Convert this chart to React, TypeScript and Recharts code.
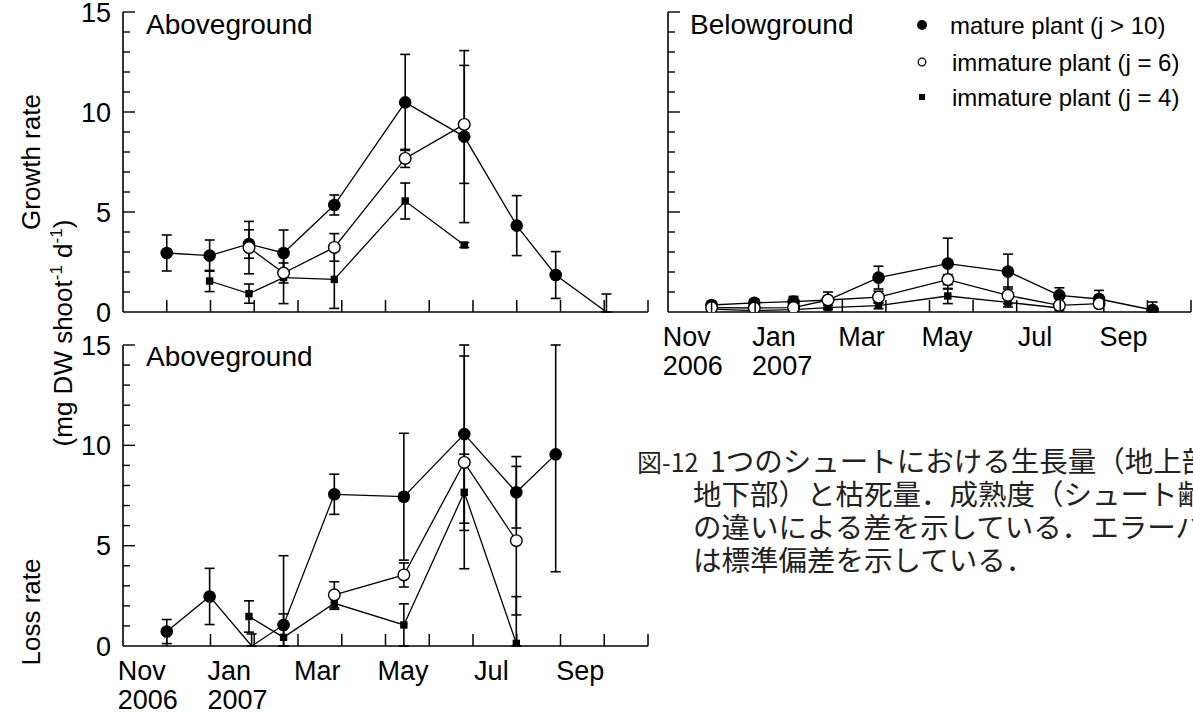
import React from 'react';
import { LineChart, Line, XAxis, YAxis, ErrorBar } from 'recharts';

const FONT = '"Liberation Sans", Arial, Helvetica, sans-serif';
const JP_FONT = '"Noto Sans CJK JP", sans-serif';

// x positions in months: 0 = 1 Oct 2006, 1 = 1 Nov 2006, ..., 12 = 1 Oct 2007
const MONTH_TICKS = [1, 2, 3, 4, 5, 6, 7, 8, 9, 10, 11, 12];
const LABEL_POS = [0.43, 2.43, 4.44, 6.4, 8.42, 10.45];
const LABEL_MONTH = ['Nov', 'Jan', 'Mar', 'May', 'Jul', 'Sep'];
const LABEL_YEAR = ['2006', '2007', '', '', '', ''];
const MONTH_HALF_WIDTH: Record<string, number> = { Nov: 24, Jan: 21.8 };
const Y_TICKS = [0, 1, 2, 3, 4, 5, 6, 7, 8, 9, 10, 11, 12, 13, 14, 15];
const Y_MAX = 15;

const SERIES_NAMES = ['mature plant (j > 10)', 'immature plant (j = 6)', 'immature plant (j = 4)'];

// Growth rate, aboveground
const GA_MATURE_X = [1.0, 1.98, 2.88, 3.67, 4.83, 6.45, 7.8, 9.0, 9.89, 11.05];
const GA_MATURE_Y = [2.95, 2.82, 3.4, 2.95, 5.35, 10.48, 8.77, 4.32, 1.85, 0];
const GA_MATURE_E = [0.9, 0.78, 0.71, 1.15, 0.5, 2.4, 4.3, 1.5, 1.17, 0.9];
const GA_J6_X = [2.88, 3.67, 4.83, 6.45, 7.8];
const GA_J6_Y = [3.22, 1.95, 3.23, 7.68, 9.38];
const GA_J6_E = [1.31, 0.5, 0.69, 0.45, 2.95];
const GA_J4_X = [1.98, 2.88, 3.67, 4.83, 6.45, 7.8];
const GA_J4_Y = [1.55, 0.92, 1.72, 1.63, 5.55, 3.35];
const GA_J4_E = [0.53, 0.48, 1.3, 1.45, 0.9, 0.12];

// Growth rate, belowground
const GB_MATURE_X = [1.0, 1.98, 2.88, 3.67, 4.83, 6.42, 7.8, 8.98, 9.89, 11.12];
const GB_MATURE_Y = [0.35, 0.46, 0.52, 0.6, 1.72, 2.42, 2.02, 0.83, 0.65, 0.1];
const GB_MATURE_E = [0.15, 0.15, 0.26, 0.4, 0.57, 1.27, 0.87, 0.38, 0.43, 0.4];
const GB_J6_X = [1.0, 1.98, 2.88, 3.67, 4.83, 6.42, 7.8, 8.98, 9.89];
const GB_J6_Y = [0.22, 0.2, 0.22, 0.6, 0.74, 1.62, 0.83, 0.33, 0.42];
const GB_J6_E = [0.05, 0.05, 0.1, 0.15, 0.3, 0.25, 0.42, 0.1, 0.1];
const GB_J4_X = [1.0, 1.98, 2.88, 3.67, 4.83, 6.42, 7.8, 8.98];
const GB_J4_Y = [0.14, 0.07, 0.12, 0.22, 0.32, 0.8, 0.48, 0.2];
const GB_J4_E = [0.05, 0.05, 0.05, 0.1, 0.15, 0.38, 0.23, 0.12];

// Loss rate, aboveground
const LA_MATURE_X = [1.0, 1.98, 2.94, 3.67, 4.83, 6.42, 7.8, 8.99, 9.89];
const LA_MATURE_Y = [0.72, 2.47, 0, 1.05, 7.56, 7.44, 10.56, 7.66, 9.55];
const LA_MATURE_E = [0.6, 1.4, 0.6, 3.45, 1.0, 3.16, 4.44, 1.78, 5.85];
const LA_J6_X = [4.83, 6.42, 7.8, 8.99];
const LA_J6_Y = [2.55, 3.54, 9.15, 5.25];
const LA_J6_E = [0.65, 0.6, 5.3, 3.7];
const LA_J4_X = [2.88, 3.67, 4.83, 6.42, 7.8, 8.99];
const LA_J4_Y = [1.47, 0.43, 2.13, 1.05, 7.66, 0.13];
const LA_J4_E = [0.78, 1.17, 0.3, 1.05, 1.9, 2.33];

const CAPTION_HEAD = '図-12';
const CAPTION_FIRST = '1つのシュートにおける生長量（地上部，';
const CAPTION_REST = [
  '地下部）と枯死量．成熟度（シュート齢）',
  'の違いによる差を示している．エラーバー',
  'は標準偏差を示している．',
];

type Pt = { x: number; y: number; err: [number, number] };

function build(xs: number[], ys: number[], es: number[]): Pt[] {
  return xs.map((x, i) => ({
    x,
    y: ys[i],
    err: [Math.min(es[i], ys[i]), Math.min(es[i], Y_MAX - ys[i])] as [number, number],
  }));
}

const filledDot = (p: any) => {
  const k = `f-${p.index}`;
  if (p.payload.y === 0) return <g key={k} />;
  return <circle key={k} cx={p.cx} cy={p.cy} r={6.3} fill="#000" stroke="none" />;
};
const openDot = (p: any) => {
  const k = `o-${p.index}`;
  if (p.payload.y === 0) return <g key={k} />;
  return <circle key={k} cx={p.cx} cy={p.cy} r={5.8} fill="#fff" stroke="#000" strokeWidth={1.4} />;
};
const squareDot = (p: any) => {
  const k = `s-${p.index}`;
  if (p.payload.y === 0) return <g key={k} />;
  return <rect key={k} x={p.cx - 3.7} y={p.cy - 3.7} width={7.4} height={7.4} fill="#000" stroke="none" />;
};

type Series = { name: string; data: Pt[]; dot: (p: any) => any };

const makeXTick = (showLabels: boolean) => (props: any) => {
  const { x, y, payload } = props;
  const v = payload.value as number;
  const idx = LABEL_POS.indexOf(v);
  if (idx < 0) {
    return <line key={`xt-${v}`} x1={x} x2={x} y1={y} y2={y - 12} stroke="#000" strokeWidth={1.5} />;
  }
  if (!showLabels) return <g key={`xl-${v}`} />;
  const month = LABEL_MONTH[idx];
  const year = LABEL_YEAR[idx];
  const half = MONTH_HALF_WIDTH[month] ?? 0;
  return (
    <g key={`xl-${v}`}>
      <text x={x} y={y + 34} textAnchor="middle" fontSize={27} fontFamily={FONT} fill="#000">
        {month}
      </text>
      {year ? (
        <text x={x - half} y={y + 63} textAnchor="start" fontSize={27} fontFamily={FONT} fill="#000">
          {year}
        </text>
      ) : null}
    </g>
  );
};

const makeYTick = (showLabels: boolean) => (props: any) => {
  const { x, y, payload } = props;
  const v = payload.value as number;
  const major = v % 5 === 0;
  return (
    <g key={`yt-${v}`}>
      {v !== 0 ? (
        <line x1={x} x2={x + (major ? 12 : 7)} y1={y} y2={y} stroke="#000" strokeWidth={1.4} />
      ) : null}
      {showLabels && major ? (
        <text x={x - 12} y={y + 9.7} textAnchor="end" fontSize={27} fontFamily={FONT} fill="#000">
          {v}
        </text>
      ) : null}
    </g>
  );
};

type PanelProps = {
  width: number;
  height: number;
  margin: { top: number; right: number; bottom: number; left: number };
  yAxisWidth: number;
  xAxisHeight: number;
  showYLabels: boolean;
  showXLabels: boolean;
  series: Series[];
};

function Panel(p: PanelProps) {
  return (
    <LineChart width={p.width} height={p.height} margin={p.margin}>
      <XAxis
        type="number"
        dataKey="x"
        domain={[0, 12]}
        allowDataOverflow
        ticks={[...MONTH_TICKS, ...LABEL_POS]}
        interval={0}
        tickSize={0}
        tickMargin={0}
        tickLine={false}
        tick={makeXTick(p.showXLabels)}
        axisLine={{ stroke: '#000', strokeWidth: 1.6 }}
        height={p.xAxisHeight}
      />
      <YAxis
        type="number"
        dataKey="y"
        domain={[0, Y_MAX]}
        allowDataOverflow
        ticks={Y_TICKS}
        interval={0}
        tickSize={0}
        tickMargin={0}
        tickLine={false}
        tick={makeYTick(p.showYLabels)}
        axisLine={{ stroke: '#000', strokeWidth: 1.6 }}
        width={p.yAxisWidth}
      />
      {p.series.map((s) => (
        <Line
          key={s.name}
          name={s.name}
          data={s.data}
          dataKey="y"
          type="linear"
          stroke="#000"
          strokeWidth={1.3}
          dot={s.dot}
          activeDot={false}
          isAnimationActive={false}
        >
          <ErrorBar dataKey="err" width={5} stroke="#000" strokeWidth={1.6} direction="y" />
        </Line>
      ))}
    </LineChart>
  );
}

const growthAbove: Series[] = [
  { name: SERIES_NAMES[0], data: build(GA_MATURE_X, GA_MATURE_Y, GA_MATURE_E), dot: filledDot },
  { name: SERIES_NAMES[2], data: build(GA_J4_X, GA_J4_Y, GA_J4_E), dot: squareDot },
  { name: SERIES_NAMES[1], data: build(GA_J6_X, GA_J6_Y, GA_J6_E), dot: openDot },
];
const growthBelow: Series[] = [
  { name: SERIES_NAMES[0], data: build(GB_MATURE_X, GB_MATURE_Y, GB_MATURE_E), dot: filledDot },
  { name: SERIES_NAMES[2], data: build(GB_J4_X, GB_J4_Y, GB_J4_E), dot: squareDot },
  { name: SERIES_NAMES[1], data: build(GB_J6_X, GB_J6_Y, GB_J6_E), dot: openDot },
];
const lossAbove: Series[] = [
  { name: SERIES_NAMES[0], data: build(LA_MATURE_X, LA_MATURE_Y, LA_MATURE_E), dot: filledDot },
  { name: SERIES_NAMES[2], data: build(LA_J4_X, LA_J4_Y, LA_J4_E), dot: squareDot },
  { name: SERIES_NAMES[1], data: build(LA_J6_X, LA_J6_Y, LA_J6_E), dot: openDot },
];

function Overlay() {
  const legendY = [25, 62, 97];
  const capY = [472, 505, 538, 571];
  return (
    <svg
      width={1193}
      height={715}
      style={{ position: 'absolute', left: 0, top: 0, pointerEvents: 'none' }}
    >
      {/* panel titles */}
      <text x={146} y={34} fontSize={28} fontFamily={FONT} fill="#000">Aboveground</text>
      <text x={146} y={366} fontSize={28} fontFamily={FONT} fill="#000">Aboveground</text>
      <text x={690} y={34} fontSize={28} fontFamily={FONT} fill="#000">Belowground</text>

      {/* axis titles */}
      <text
        transform="translate(40,162) rotate(-90)"
        textAnchor="middle"
        fontSize={26}
        fontFamily={FONT}
        fill="#000"
      >
        Growth rate
      </text>
      <text
        transform="translate(72,333) rotate(-90)"
        textAnchor="middle"
        fontSize={26}
        fontFamily={FONT}
        fill="#000"
      >
        (mg DW shoot
        <tspan dy={-10} fontSize={17}>-1</tspan>
        <tspan dy={10}> d</tspan>
        <tspan dy={-10} fontSize={17}>-1</tspan>
        <tspan dy={10}>)</tspan>
      </text>
      <text
        transform="translate(40,612) rotate(-90)"
        textAnchor="middle"
        fontSize={26}
        fontFamily={FONT}
        fill="#000"
      >
        Loss rate
      </text>

      {/* legend */}
      <circle cx={922} cy={legendY[0]} r={5} fill="#000" />
      <circle cx={922} cy={legendY[1]} r={3.8} fill="#fff" stroke="#000" strokeWidth={1.3} />
      <rect x={919} y={legendY[2] - 3} width={6} height={6} fill="#000" />
      {SERIES_NAMES.map((n, i) => (
        <text key={n} x={i === 0 ? 950 : 952} y={legendY[i] + 8.6} fontSize={24} fontFamily={FONT} fill="#000">
          {n}
        </text>
      ))}

      {/* caption */}
      <text x={637} y={capY[0]} fontSize={25} fontFamily={JP_FONT} fill="#222">{CAPTION_HEAD}</text>
      <text x={710} y={capY[0]} fontSize={28.5} fontFamily={JP_FONT} fill="#222">{CAPTION_FIRST}</text>
      {CAPTION_REST.map((l, i) => (
        <text key={i} x={693} y={capY[i + 1]} fontSize={28.5} fontFamily={JP_FONT} fill="#222">
          {l}
        </text>
      ))}
    </svg>
  );
}

export default function App() {
  return (
    <div
      style={{
        position: 'absolute',
        left: 0,
        top: 0,
        width: 1193,
        height: 715,
        overflow: 'hidden',
        background: '#fff',
        fontFamily: FONT,
      }}
    >
      <div style={{ position: 'absolute', left: 0, top: 0 }}>
        <Panel
          width={660}
          height={330}
          margin={{ top: 12, right: 12, bottom: 0, left: 0 }}
          yAxisWidth={123}
          xAxisHeight={18}
          showYLabels
          showXLabels={false}
          series={growthAbove}
        />
      </div>
      <div style={{ position: 'absolute', left: 660, top: 0 }}>
        <Panel
          width={533}
          height={400}
          margin={{ top: 12, right: 2, bottom: 0, left: 0 }}
          yAxisWidth={8}
          xAxisHeight={88}
          showYLabels={false}
          showXLabels
          series={growthBelow}
        />
      </div>
      <div style={{ position: 'absolute', left: 0, top: 330 }}>
        <Panel
          width={660}
          height={385}
          margin={{ top: 15, right: 12, bottom: 0, left: 0 }}
          yAxisWidth={123}
          xAxisHeight={69}
          showYLabels
          showXLabels
          series={lossAbove}
        />
      </div>
      <Overlay />
    </div>
  );
}
